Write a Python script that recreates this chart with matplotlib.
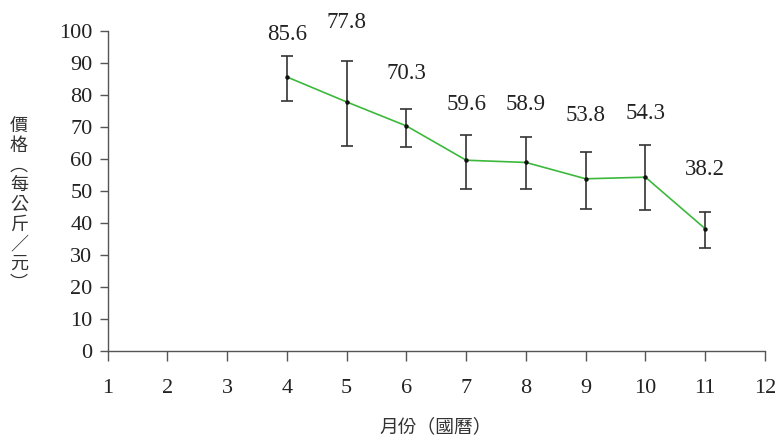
import matplotlib
matplotlib.use('Agg')
import matplotlib.pyplot as plt

# monthly prices (per kg) with error range
months = [4, 5, 6, 7, 8, 9, 10, 11]
price = [85.6, 77.8, 70.3, 59.6, 58.9, 53.8, 54.3, 38.2]
upper = [92.2, 90.6, 75.6, 67.5, 66.7, 62.3, 64.2, 43.3]
lower = [78.1, 64.0, 63.7, 50.6, 50.6, 44.4, 44.2, 32.1]
# baseline of the value labels (data units)
label_y = [97.2, 100.9, 84.9, 75.3, 75.3, 71.7, 72.5, 55.0]

err_lo = [p - l for p, l in zip(price, lower)]
err_hi = [u - p for u, p in zip(upper, price)]

serif = 'Liberation Serif'
cjk = 'Noto Sans CJK TC'

fig = plt.figure(figsize=(7.75, 4.41), dpi=100)
ax = fig.add_axes([0.139, 0.204, 0.848, 0.726])

ax.errorbar(months, price, yerr=[err_lo, err_hi], fmt='none',
            ecolor='#333333', elinewidth=1.2, capsize=4.5, capthick=1.2, zorder=2)
ax.plot(months, price, color='#3cb93c', lw=1.2, zorder=3)
ax.plot(months, price, 'o', color='#111111', ms=2.2, zorder=4)

for m, p, ly in zip(months, price, label_y):
    ax.text(m, ly, f'{p:.1f}', ha='center', va='baseline',
            fontsize=16.5, family=serif, color='#222222', clip_on=False)

ax.set_xlim(1, 12)
ax.set_ylim(0, 100)
ax.set_xticks(range(1, 13))
ax.set_yticks(range(0, 101, 10))
for lab in ax.get_xticklabels() + ax.get_yticklabels():
    lab.set_family(serif)
    lab.set_fontsize(16)
    lab.set_color('#222222')
ax.tick_params(axis='x', length=7, width=1, color='#555555', pad=13)
ax.tick_params(axis='y', length=6, width=1, color='#555555', pad=5)

for s in ['top', 'right']:
    ax.spines[s].set_visible(False)
for s in ['left', 'bottom']:
    ax.spines[s].set_color('#555555')
    ax.spines[s].set_linewidth(1)

ylabel_chars = ['價', '格', '︵', '每', '公', '斤', '／', '元', '︶']
fig.text(19 / 775, 1 - 205 / 441, '\n'.join(ylabel_chars), ha='center', va='center',
         family=[cjk, 'DejaVu Sans'], fontsize=13, color='#333333', linespacing=1.12)
fig.text(436 / 775, 1 - 427 / 441, '月份（國曆）', ha='center', va='center',
         family=[cjk, 'DejaVu Sans'], fontsize=13.5, color='#333333')

fig.savefig('out.png', dpi=100)
